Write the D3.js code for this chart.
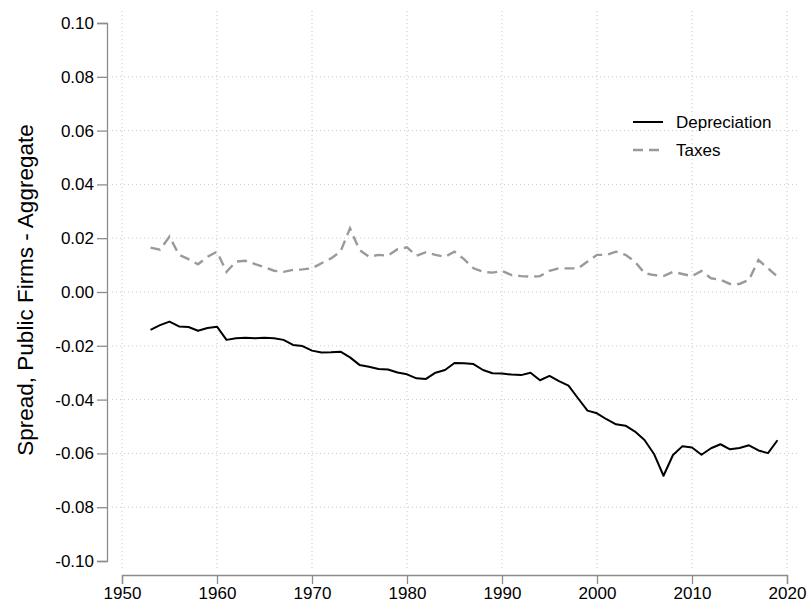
<!DOCTYPE html>
<html>
<head>
<meta charset="utf-8">
<script src="https://cdn.jsdelivr.net/npm/d3@7"></script>
<style>
  body { margin: 0; background: #fff; }
  svg { font-family: "Liberation Sans", Arial, Helvetica, sans-serif; }
</style>
</head>
<body>
<div id="chart"></div>
<script>
// years 1953..2019
const years = d3.range(1953, 2020);

const depreciation = [
  -0.0141, -0.0123, -0.0110, -0.0128, -0.0130, -0.0144, -0.0134, -0.0129,
  -0.0178, -0.0172, -0.0170, -0.0172, -0.0170, -0.0172, -0.0178, -0.0197,
  -0.0201, -0.0218, -0.0225, -0.0224, -0.0222, -0.0243, -0.0271, -0.0278,
  -0.0286, -0.0288, -0.0299, -0.0306, -0.0321, -0.0323, -0.0300, -0.0290,
  -0.0264, -0.0265, -0.0268, -0.0290, -0.0302, -0.0303, -0.0307, -0.0309,
  -0.0300, -0.0328, -0.0312, -0.0331, -0.0348, -0.0395, -0.0441, -0.0451,
  -0.0473, -0.0492, -0.0497, -0.0519, -0.0550, -0.0602, -0.0683, -0.0606,
  -0.0573, -0.0578, -0.0605, -0.0581, -0.0566, -0.0585, -0.0580, -0.0570,
  -0.0589, -0.0599, -0.0551
];

const taxes = [
  0.0165, 0.0157, 0.0206, 0.0138, 0.0122, 0.0103, 0.0131, 0.0150,
  0.0075, 0.0113, 0.0116, 0.0104, 0.0092, 0.0079, 0.0075, 0.0082,
  0.0084, 0.0088, 0.0107, 0.0125, 0.0150, 0.0237, 0.0156, 0.0131,
  0.0138, 0.0135, 0.0159, 0.0166, 0.0135, 0.0148, 0.0138, 0.0131,
  0.0150, 0.0122, 0.0088, 0.0075, 0.0072, 0.0078, 0.0063, 0.0059,
  0.0057, 0.0059, 0.0079, 0.0088, 0.0088, 0.0088, 0.0113, 0.0138,
  0.0138, 0.0150, 0.0138, 0.0113, 0.0070, 0.0063, 0.0059, 0.0075,
  0.0067, 0.0059, 0.0078, 0.0051, 0.0045, 0.0030, 0.0030, 0.0045,
  0.0119, 0.0088, 0.0057
];

const xTicks = [1950, 1960, 1970, 1980, 1990, 2000, 2010, 2020];
const yTicks = [0.10, 0.08, 0.06, 0.04, 0.02, 0.00, -0.02, -0.04, -0.06, -0.08, -0.10];
const seriesNames = ["Depreciation", "Taxes"];

const width = 809, height = 610;

const svg = d3.select("#chart").append("svg")
  .attr("width", width)
  .attr("height", height);

const x = d3.scaleLinear().domain([1950, 2020]).range([122, 787]);
const y = d3.scaleLinear().domain([-0.10, 0.10]).range([561, 23]);

// grid
const grid = svg.append("g").attr("class", "grid");
grid.selectAll("line.v")
  .data(xTicks).enter().append("line")
  .attr("x1", d => x(d)).attr("x2", d => x(d))
  .attr("y1", 11).attr("y2", 570)
  .attr("stroke", "#c8c8c8")
  .attr("stroke-width", 1)
  .attr("stroke-dasharray", "1,3");

grid.selectAll("line.h")
  .data(yTicks.filter(d => Math.abs(d) < 0.099)).enter().append("line")
  .attr("x1", 112).attr("x2", 800)
  .attr("y1", d => y(d)).attr("y2", d => y(d))
  .attr("stroke", "#c8c8c8")
  .attr("stroke-width", 1)
  .attr("stroke-dasharray", "1,3");

// axes
const yAxis = svg.append("g")
  .attr("transform", "translate(107,0)")
  .call(d3.axisLeft(y).tickValues(yTicks).tickFormat(d3.format(".2f")).tickSize(10).tickPadding(3));

const xAxis = svg.append("g")
  .attr("transform", "translate(0,575)")
  .call(d3.axisBottom(x).tickValues(xTicks).tickFormat(d3.format("d")).tickSize(9).tickPadding(3));

[yAxis, xAxis].forEach(a => {
  a.select(".domain").attr("stroke", "#8c8c8c").attr("stroke-width", 1.3);
  a.selectAll(".tick line").attr("stroke", "#8c8c8c").attr("stroke-width", 1.3);
  a.selectAll(".tick text")
    .attr("fill", "#000")
    .style("font-size", "17px")
    .style("font-family", "'Liberation Sans', Arial, sans-serif");
});
yAxis.selectAll(".tick text").text(d => d < 0 ? "-" + d3.format(".2f")(-d) : d3.format(".2f")(d));

// y title
svg.append("text")
  .attr("transform", "translate(33,290) rotate(-90)")
  .attr("text-anchor", "middle")
  .style("font-size", "22.5px")
  .attr("fill", "#000")
  .text("Spread, Public Firms - Aggregate");

// lines
const line = d3.line()
  .x((d, i) => x(years[i]))
  .y(d => y(d));

svg.append("path")
  .datum(taxes)
  .attr("d", line)
  .attr("fill", "none")
  .attr("stroke", "#9a9a9a")
  .attr("stroke-width", 2.4)
  .attr("stroke-dasharray", "10,6");

svg.append("path")
  .datum(depreciation)
  .attr("d", line)
  .attr("fill", "none")
  .attr("stroke", "#000")
  .attr("stroke-width", 2)
  .attr("stroke-linejoin", "round");

// legend
const legend = svg.append("g").attr("transform", "translate(633,122)");
const styles = [
  { stroke: "#000", dash: null, w: 2 },
  { stroke: "#9a9a9a", dash: "10,6", w: 2.4 }
];
seriesNames.forEach((name, i) => {
  const g = legend.append("g").attr("transform", "translate(0," + (i * 28) + ")");
  g.append("line")
    .attr("x1", 0).attr("x2", 30)
    .attr("y1", 0).attr("y2", 0)
    .attr("stroke", styles[i].stroke)
    .attr("stroke-width", styles[i].w)
    .attr("stroke-dasharray", styles[i].dash);
  g.append("text")
    .attr("x", 43).attr("y", 6)
    .style("font-size", "17px")
    .attr("fill", "#000")
    .text(name);
});
</script>
</body>
</html>
